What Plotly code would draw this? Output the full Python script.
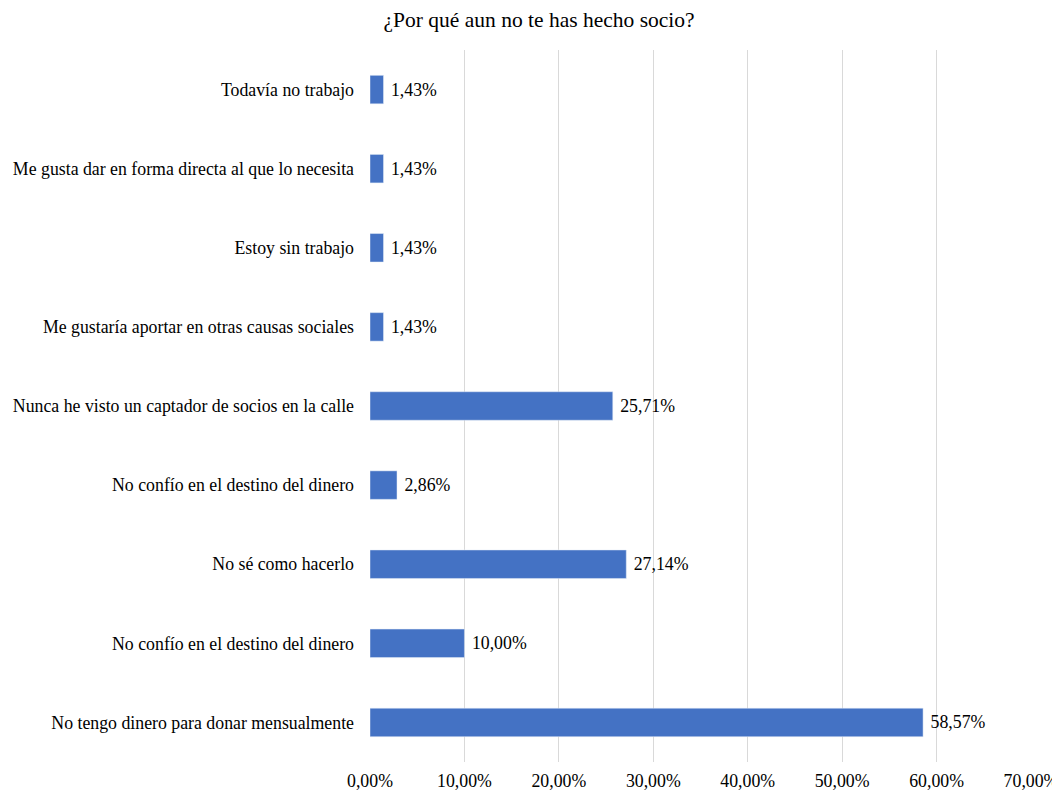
import plotly.graph_objects as go

categories = [
    "Todavía no trabajo",
    "Me gusta dar en forma directa al que lo necesita",
    "Estoy sin trabajo",
    "Me gustaría aportar en otras causas sociales",
    "Nunca he visto un captador de socios en la calle",
    "No confío en el destino del dinero",
    "No sé como hacerlo",
    "No confío en el destino del dinero",
    "No tengo dinero para donar mensualmente",
]
values = [1.43, 1.43, 1.43, 1.43, 25.71, 2.86, 27.14, 10.00, 58.57]
tick_values = [0, 10, 20, 30, 40, 50, 60, 70]
title_text = "¿Por qué aun no te has hecho socio?"

positions = list(range(len(categories)))
FONT = "Liberation Serif, Times New Roman, serif"
FS = 17.8


def fmt(v):
    return f"{v:.2f}%".replace(".", ",")


fig = go.Figure(
    go.Bar(
        x=values,
        y=positions,
        orientation="h",
        width=0.36,
        marker=dict(color="#4472C4"),
        text=[" " + fmt(v) for v in values],
        textposition="outside",
        textfont=dict(family=FONT, size=FS, color="#000000"),
        cliponaxis=False,
    )
)

fig.update_layout(
    width=1060,
    height=791,
    margin=dict(l=362, r=37, t=42, b=37),
    paper_bgcolor="white",
    plot_bgcolor="white",
    showlegend=False,
    title=dict(
        text=title_text,
        x=0.501,
        xref="container",
        xanchor="center",
        y=0.985,
        yref="container",
        yanchor="middle",
        font=dict(family=FONT, size=21.5, color="#000000"),
    ),
    font=dict(family=FONT, size=FS, color="#000000"),
)

fig.update_xaxes(
    range=[0, 70],
    tickvals=tick_values,
    ticktext=[fmt(v) for v in tick_values],
    showgrid=True,
    gridcolor="#D9D9D9",
    gridwidth=1,
    zeroline=False,
    showline=False,
    ticks="",
    automargin=False,
    ticklabelstandoff=6,
    tickfont=dict(family=FONT, size=FS, color="#000000"),
)

fig.update_yaxes(
    tickvals=positions,
    ticktext=categories,
    range=[len(categories) - 0.5, -0.5],
    showgrid=False,
    zeroline=False,
    showline=False,
    ticks="",
    automargin=False,
    ticklabelstandoff=15,
    tickfont=dict(family=FONT, size=FS, color="#000000"),
)

fig.write_html("out.html")
